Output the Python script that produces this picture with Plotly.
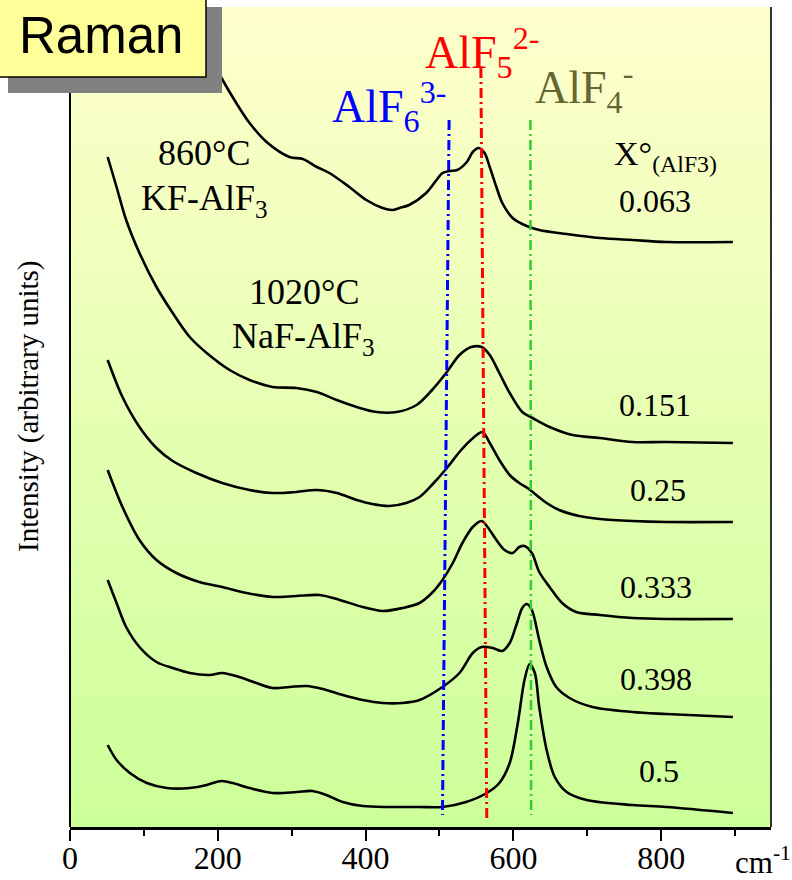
import plotly.graph_objects as go

# Raman shift (cm-1) and stacked intensity (arbitrary units) for each melt composition
wn_063 = [50, 108, 162, 185, 205, 225, 243, 266, 297, 315, 334, 351, 378, 401, 423, 436, 446, 459, 482, 496,
          504, 514, 524, 537, 545, 553, 561, 568, 577, 585, 599, 618, 635, 672, 717, 761, 807, 897]
int_063 = [1027, 907, 812, 777, 749, 724, 704, 685, 670, 668, 660, 654, 640, 627, 619, 617, 619, 622, 634, 647,
           654, 656, 657, 665, 675, 679, 674, 660, 640, 624, 609, 601, 597, 593, 589, 587, 585, 585]

wn_151 = [51, 63, 76, 94, 117, 139, 162, 185, 216, 243, 274, 306, 334, 361, 388, 415, 442, 469, 490, 510,
          527, 543, 557, 568, 581, 595, 612, 626, 649, 680, 717, 761, 807, 897]
int_151 = [670, 640, 607, 574, 540, 514, 490, 474, 457, 447, 440, 439, 435, 427, 420, 415, 415, 422, 437, 455,
           472, 480, 480, 472, 454, 434, 415, 409, 400, 392, 389, 385, 385, 384]

wn_25 = [51, 71, 94, 117, 139, 171, 206, 243, 274, 306, 334, 361, 388, 409, 432, 455, 473, 491, 510,
         527, 541, 558, 568, 581, 595, 608, 619, 626, 645, 662, 689, 717, 761, 807, 897]
int_25 = [467, 430, 400, 379, 366, 354, 344, 337, 334, 335, 337, 334, 327, 323, 321, 324, 330, 343, 359,
          375, 386, 395, 384, 367, 352, 344, 339, 335, 324, 317, 311, 308, 306, 305, 305]

wn_333 = [51, 71, 94, 117, 144, 175, 206, 239, 274, 306, 338, 365, 396, 423, 450, 473, 491, 504, 518, 531,
          545, 557, 565, 577, 588, 599, 608, 615, 625, 635, 649, 666, 685, 717, 761, 807, 897]
int_333 = [357, 320, 287, 267, 254, 245, 240, 234, 230, 231, 232, 227, 220, 216, 219, 224, 235, 247, 264, 284,
           300, 306, 300, 287, 277, 274, 280, 281, 274, 255, 240, 224, 215, 212, 209, 208, 208]

wn_398 = [51, 63, 76, 94, 117, 139, 162, 189, 206, 229, 252, 274, 297, 320, 342, 369, 396, 423, 450, 473,
          504, 527, 545, 557, 572, 585, 595, 604, 612, 618, 625, 635, 645, 658, 676, 707, 761, 807, 897]
int_398 = [247, 224, 200, 180, 165, 159, 154, 152, 154, 150, 144, 139, 140, 141, 138, 132, 127, 124, 124, 127,
           140, 154, 174, 180, 179, 176, 184, 202, 219, 223, 217, 187, 160, 140, 129, 120, 115, 113, 110]

wn_5 = [51, 63, 81, 104, 131, 162, 185, 198, 206, 220, 243, 274, 307, 328, 347, 369, 396, 432, 473, 504,
        536, 564, 581, 595, 606, 615, 622, 629, 635, 645, 656, 672, 699, 761, 807, 897]
int_5 = [82, 67, 54, 44, 39, 39, 42, 45, 46, 44, 39, 34, 35, 36, 32, 25, 21, 20, 20, 20,
         25, 34, 44, 64, 104, 147, 163, 154, 120, 77, 50, 35, 27, 22, 20, 14]

compositions = ["0.063", "0.151", "0.25", "0.333", "0.398", "0.5"]

# Band markers for the fluoroaluminate species (start/end of each dash-dot guide)
band_labels = ["AlF<sub>6</sub><sup>3-</sup>", "AlF<sub>5</sub><sup>2-</sup>", "AlF<sub>4</sub><sup>-</sup>"]
band_wn = [[513, 504], [556, 564], [623, 624]]
band_int = [[707, 12], [759, 7], [707, 12]]

x_ticks = [0, 200, 400, 600, 800]
x_minor = [100, 300, 500, 700, 900]

# ---- layout geometry (pixels of the 792x880 page) ----
W, H = 792, 880
L, R, T, B = 70, 21, 7, 53
PW, PH = W - L - R, H - T - B


def px(x):
    return (x - L) / PW


def py(y):
    return (H - B - y) / PH


SERIF = "Liberation Serif"
SANS = "Liberation Sans"

fig = go.Figure()

spectra = [(wn_063, int_063), (wn_151, int_151), (wn_25, int_25),
           (wn_333, int_333), (wn_398, int_398), (wn_5, int_5)]
for (wn, inten), name in zip(spectra, compositions):
    fig.add_trace(go.Scatter(x=wn, y=inten, mode="lines", name=name,
                             line=dict(color="black", width=2.6, shape="spline", smoothing=0.9),
                             showlegend=False, hoverinfo="skip"))

band_colors = ["#0000FF", "#FF0000", "#33CC33"]
band_widths = [3, 3, 2.5]
for wn, inten, col, lw in zip(band_wn, band_int, band_colors, band_widths):
    fig.add_trace(go.Scatter(x=wn, y=inten, mode="lines",
                             line=dict(color=col, width=lw, dash="10px,4px,2px,4px"),
                             showlegend=False, hoverinfo="skip"))

shapes = []
# vertical yellow-to-green gradient behind the spectra
top_rgb = (255, 255, 204)
bot_rgb = (204, 255, 153)
n_band = 80
for i in range(n_band):
    f = (i + 0.5) / n_band
    c = tuple(round(top_rgb[k] + (bot_rgb[k] - top_rgb[k]) * f) for k in range(3))
    shapes.append(dict(type="rect", xref="paper", yref="paper",
                       x0=0, x1=1, y0=1 - (i + 1) / n_band - 0.002, y1=1 - i / n_band,
                       fillcolor="rgb(%d,%d,%d)" % c, line=dict(width=0), layer="below"))

# frame lines
shapes.append(dict(type="line", xref="paper", yref="paper", x0=0, x1=0, y0=0, y1=1,
                   line=dict(color="black", width=2), layer="above"))
shapes.append(dict(type="line", xref="paper", yref="paper", x0=1, x1=1, y0=0, y1=1,
                   line=dict(color="#333333", width=2), layer="above"))

# "Raman" badge with drop shadow
shapes.append(dict(type="rect", xref="paper", yref="paper",
                   x0=px(8), x1=px(222), y0=py(93), y1=py(7),
                   fillcolor="#808080", line=dict(width=0), layer="above"))
shapes.append(dict(type="rect", xref="paper", yref="paper",
                   x0=px(-4), x1=px(206), y0=py(77), y1=py(-4),
                   fillcolor="#FFFF99", line=dict(color="black", width=1.5), layer="above"))

ann = []


def text(x, y, s, size, color="black", family=SERIF, xanchor="center", yanchor="middle", angle=0):
    ann.append(dict(xref="paper", yref="paper", x=px(x), y=py(y), text=s, showarrow=False,
                    xanchor=xanchor, yanchor=yanchor, textangle=angle,
                    font=dict(family=family, size=size, color=color)))


text(100.5, 35.5, "Raman", 51, family=SANS)

band_text_pos = [(330, 106), (423, 52), (533, 88)]
band_text_colors = ["#0000FF", "#FF0000", "#666633"]
for lab, (bx, by), col in zip(band_labels, band_text_pos, band_text_colors):
    text(bx, by, lab, 46, color=col, xanchor="left")

text(204, 153, "860°C", 36)
text(139, 200, "KF-AlF<sub>3</sub>", 36, xanchor="left")
text(304, 292, "1020°C", 36)
text(230, 338, "NaF-AlF<sub>3</sub>", 36, xanchor="left")

text(612, 156, "X°<sub>(AlF3)</sub>", 34, xanchor="left")
comp_pos = [(655, 201), (655, 405), (658, 490), (656, 587), (656, 679), (659, 771)]
for lab, (cx, cy) in zip(compositions, comp_pos):
    text(cx, cy, lab, 32)

text(733, 860, "cm<sup>-1</sup>", 31, xanchor="left")
text(28, 406, "Intensity (arbitrary units)", 29, angle=-90)

fig.update_layout(
    width=W, height=H,
    margin=dict(l=L, r=R, t=T, b=B, autoexpand=False),
    paper_bgcolor="white", plot_bgcolor="white",
    shapes=shapes, annotations=ann,
    xaxis=dict(range=[0, 948.6], tickvals=x_ticks, ticktext=[str(v) for v in x_ticks],
               ticks="outside", ticklen=11, tickwidth=1.5, tickcolor="black",
               minor=dict(tickvals=x_minor, ticks="outside", ticklen=6, tickwidth=1.5, tickcolor="black"),
               showline=True, linecolor="black", linewidth=2.5, showgrid=False, zeroline=False,
               automargin=False,
               tickfont=dict(family=SERIF, size=32, color="black"), ticklabelstandoff=-10),
    yaxis=dict(range=[0, 820], showticklabels=False, ticks="", showgrid=False, zeroline=False,
               showline=False, automargin=False),
)

fig.write_html("out.html")
